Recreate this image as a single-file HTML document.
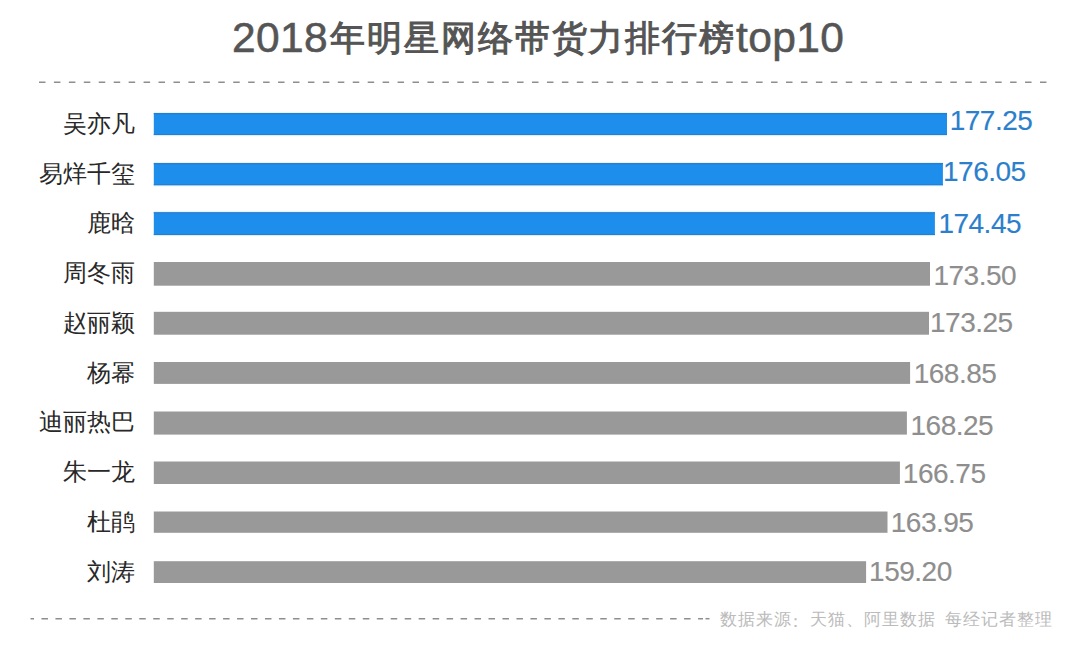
<!DOCTYPE html>
<html><head><meta charset="utf-8">
<title>2018年明星网络带货力排行榜top10</title>
<style>
html,body{margin:0;padding:0;}
body{width:1080px;height:649px;overflow:hidden;background:#fff;position:relative;font-family:"Liberation Sans",sans-serif;}
i{font-style:normal;display:inline-block;}
.title{position:absolute;top:14px;left:232px;line-height:44px;color:#555;white-space:nowrap;-webkit-text-stroke:1.1px #555;}
.title .lat{position:relative;top:2px;font-size:42.5px;letter-spacing:0.4px;-webkit-text-stroke:0.55px #555;}
.title .cjk{font-size:35px;margin-left:2px;}
.title .cjk i{width:36.9px;}
.name{position:absolute;right:945px;font-size:24px;color:#282828;white-space:nowrap;line-height:24px;}
.name i{width:24px;}
.val{position:absolute;font-size:28px;letter-spacing:-0.5px;-webkit-text-stroke:0.15px currentColor;color:#8e8e8e;white-space:nowrap;line-height:27px;}
.val.b{color:#2c7fcc;}
.src{position:absolute;left:719.5px;top:611px;font-size:17px;color:#bbb;white-space:nowrap;line-height:18px;}
.src i{width:18px;}
.src .gap{width:9px;}
.src .colon{position:relative;left:-4.5px;top:2px;}
svg{position:absolute;left:0;top:0;}
</style></head><body>
<div class="title"><span class="lat">2018</span><span class="cjk"><i>年</i><i>明</i><i>星</i><i>网</i><i>络</i><i>带</i><i>货</i><i>力</i><i>排</i><i>行</i><i>榜</i></span><span class="lat">top10</span></div>
<svg width="1080" height="649">
<line x1="39" y1="82.2" x2="1048" y2="82.2" stroke="#8e8e8e" stroke-width="1.5" stroke-dasharray="6.5 8.44"/>
<line x1="30.5" y1="618.7" x2="703" y2="618.7" stroke="#8e8e8e" stroke-width="1.5" stroke-dasharray="6.5 7.47" stroke-dashoffset="3"/>
<line x1="705.5" y1="618.7" x2="709.5" y2="618.7" stroke="#8e8e8e" stroke-width="1.5"/>
<rect x="153.8" y="113" width="793.2" height="22.2" fill="#1e8eec"/>
<rect x="153.8" y="163" width="789.1" height="22.5" fill="#1e8eec"/>
<rect x="153.8" y="212.1" width="781.1" height="23.1" fill="#1e8eec"/>
<rect x="153.8" y="262" width="776.2" height="23.7" fill="#999"/>
<rect x="153.8" y="311.8" width="775.2" height="22.9" fill="#999"/>
<rect x="153.8" y="362" width="756.3" height="21.9" fill="#999"/>
<rect x="153.8" y="411.5" width="753.1" height="23.1" fill="#999"/>
<rect x="153.8" y="461.5" width="746.1" height="22.5" fill="#999"/>
<rect x="153.8" y="511.5" width="733.7" height="21.3" fill="#999"/>
<rect x="153.8" y="561.2" width="712.3" height="21.8" fill="#999"/>
<rect x="153.8" y="113.0" width="793.2" height="1.3" fill="#2a7ccc"/><rect x="153.8" y="133.9" width="793.2" height="1.3" fill="#2a7ccc"/><rect x="153.8" y="112.0" width="793.2" height="1" fill="#e2f6ff"/><rect x="153.8" y="135.2" width="793.2" height="1" fill="#e2f6ff"/>
<rect x="153.8" y="163.0" width="789.1" height="1.3" fill="#2a7ccc"/><rect x="153.8" y="184.2" width="789.1" height="1.3" fill="#2a7ccc"/><rect x="153.8" y="162.0" width="789.1" height="1" fill="#e2f6ff"/><rect x="153.8" y="185.5" width="789.1" height="1" fill="#e2f6ff"/>
<rect x="153.8" y="212.1" width="781.1" height="1.3" fill="#2a7ccc"/><rect x="153.8" y="233.9" width="781.1" height="1.3" fill="#2a7ccc"/><rect x="153.8" y="211.1" width="781.1" height="1" fill="#e2f6ff"/><rect x="153.8" y="235.2" width="781.1" height="1" fill="#e2f6ff"/>

</svg>
<div class="name" style="top:112px"><i>吴</i><i>亦</i><i>凡</i></div>
<div class="name" style="top:162px"><i>易</i><i>烊</i><i>千</i><i>玺</i></div>
<div class="name" style="top:211px"><i>鹿</i><i>晗</i></div>
<div class="name" style="top:261px"><i>周</i><i>冬</i><i>雨</i></div>
<div class="name" style="top:311px"><i>赵</i><i>丽</i><i>颖</i></div>
<div class="name" style="top:361px"><i>杨</i><i>幂</i></div>
<div class="name" style="top:410px"><i>迪</i><i>丽</i><i>热</i><i>巴</i></div>
<div class="name" style="top:460px"><i>朱</i><i>一</i><i>龙</i></div>
<div class="name" style="top:510px"><i>杜</i><i>鹃</i></div>
<div class="name" style="top:560px"><i>刘</i><i>涛</i></div>
<div class="val b" style="left:949.7px;top:107px">177.25</div>
<div class="val b" style="left:943px;top:158px">176.05</div>
<div class="val b" style="left:938.4px;top:210px">174.45</div>
<div class="val" style="left:933.45px;top:262px">173.50</div>
<div class="val" style="left:930px;top:309px">173.25</div>
<div class="val" style="left:913.7px;top:360px">168.85</div>
<div class="val" style="left:910.55px;top:412px">168.25</div>
<div class="val" style="left:902.85px;top:460px">166.75</div>
<div class="val" style="left:890.8px;top:509px">163.95</div>
<div class="val" style="left:869.1px;top:558px">159.20</div>
<div class="src"><i>数</i><i>据</i><i>来</i><i>源</i><i class="colon">：</i><i>天</i><i>猫</i><i>、</i><i>阿</i><i>里</i><i>数</i><i>据</i><i class="gap"></i><i>每</i><i>经</i><i>记</i><i>者</i><i>整</i><i>理</i></div>
</body></html>
